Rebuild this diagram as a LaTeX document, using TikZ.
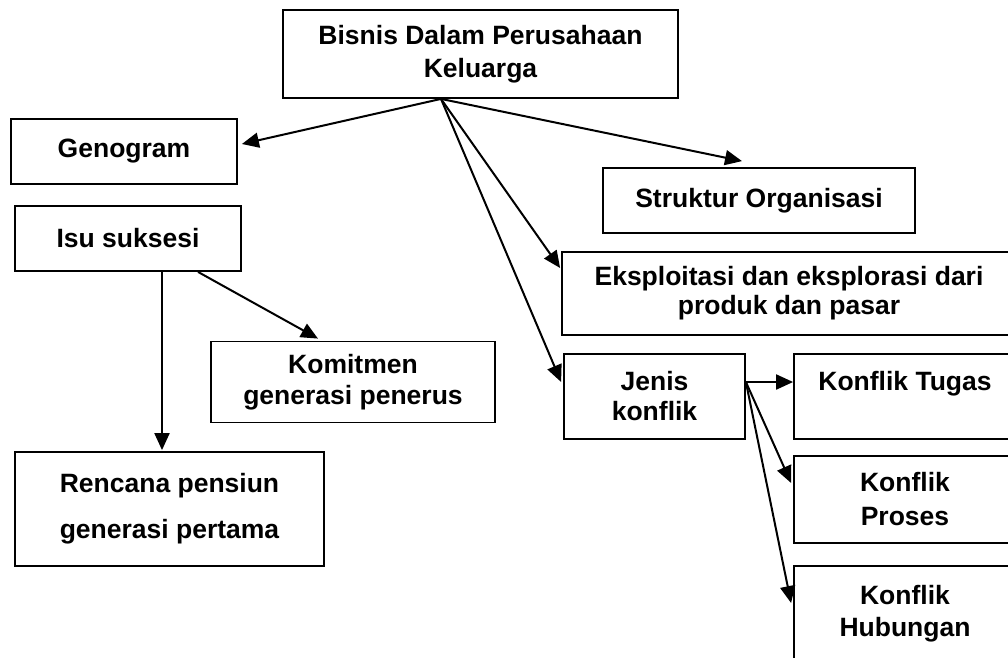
\documentclass[tikz,border=0pt]{standalone}
\usepackage{fontspec}
\setmainfont{Liberation Sans}
\usetikzlibrary{arrows.meta,calc}
\begin{document}
\begin{tikzpicture}[x=1pt,y=-1pt,
  box/.style={draw=black,line width=1.8pt,inner sep=0pt,align=center,
    font=\bfseries\fontsize{26.5}{32}\selectfont},
  conn/.style={line width=2pt,-{Triangle[length=17pt,width=15pt]}}]
\useasboundingbox (0,0) rectangle (1008,657);
\clip (0,0) rectangle (1008,657);
\fill[white] (0,0) rectangle (1008,657);

\node[box,minimum width=395pt,minimum height=88pt,font=\bfseries\fontsize{26.5}{33}\selectfont] (top) at (480.5,54) {Bisnis Dalam Perusahaan\\Keluarga};
\node[box,minimum width=226pt,minimum height=65pt] (geno) at (124,151.5) {Genogram};
\node[box,minimum width=226pt,minimum height=65pt] (isu) at (128,238.5) {Isu suksesi};
\node[box,minimum width=312pt,minimum height=65pt] (struk) at (759,200.5) {Struktur Organisasi};
\node[box,minimum width=454pt,minimum height=83pt,font=\bfseries\fontsize{26.5}{29}\selectfont] (eks) at (789,293.5) {Eksploitasi dan eksplorasi dari\\produk dan pasar};
\node[box,minimum width=181pt,minimum height=85pt,font=\bfseries\fontsize{26.5}{30}\selectfont] (jenis) at (654.5,396.5) {Jenis\\konflik};
\node[box,minimum width=222pt,minimum height=85pt] (tugas) at (905,396.5) {Konflik Tugas\\ \mbox{}};
\node[box,minimum width=222pt,minimum height=87pt,font=\bfseries\fontsize{26.5}{34}\selectfont] (proses) at (905,499.5) {Konflik\\Proses};
\node[box,minimum width=222pt,minimum height=96pt] (hub) at (905,614) {Konflik\\Hubungan};
\node[box,minimum width=284pt,minimum height=81pt,font=\bfseries\fontsize{26.5}{31}\selectfont] (kom) at (353,382) {Komitmen\\generasi penerus};
\node[box,minimum width=309pt,minimum height=114pt,font=\bfseries\fontsize{26.5}{46}\selectfont] (ren) at (169.5,509) {Rencana pensiun\\generasi pertama};

\draw[conn] ($(top.south)+(-39.5,0)$) -- ($(geno.east)+(4,-7.5)$);
\draw[conn] ($(top.south)+(-39.5,0)$) -- ($(struk.north)+(-17,-6)$);
\draw[conn] ($(top.south)+(-39.5,0)$) -- ($(eks.west)+(-1,-25.5)$);
\draw[conn] ($(top.south)+(-39.5,0)$) -- ($(jenis.west)+(-2,-14.5)$);
\draw[conn] ($(jenis.east)+(0,-14.5)$) -- ($(tugas.west)+(0,-14.5)$);
\draw[conn] ($(jenis.east)+(0,-14.5)$) -- ($(proses.west)+(-2,-16.5)$);
\draw[conn] ($(jenis.east)+(0,-14.5)$) -- ($(hub.west)+(-2,-11)$);
\draw[conn] ($(isu.south)+(34,0)$) -- ($(ren.north)+(-7.5,-1)$);
\draw[conn] ($(isu.south)+(70,0)$) -- ($(kom.north)+(-35,-2)$);
\end{tikzpicture}
\end{document}
